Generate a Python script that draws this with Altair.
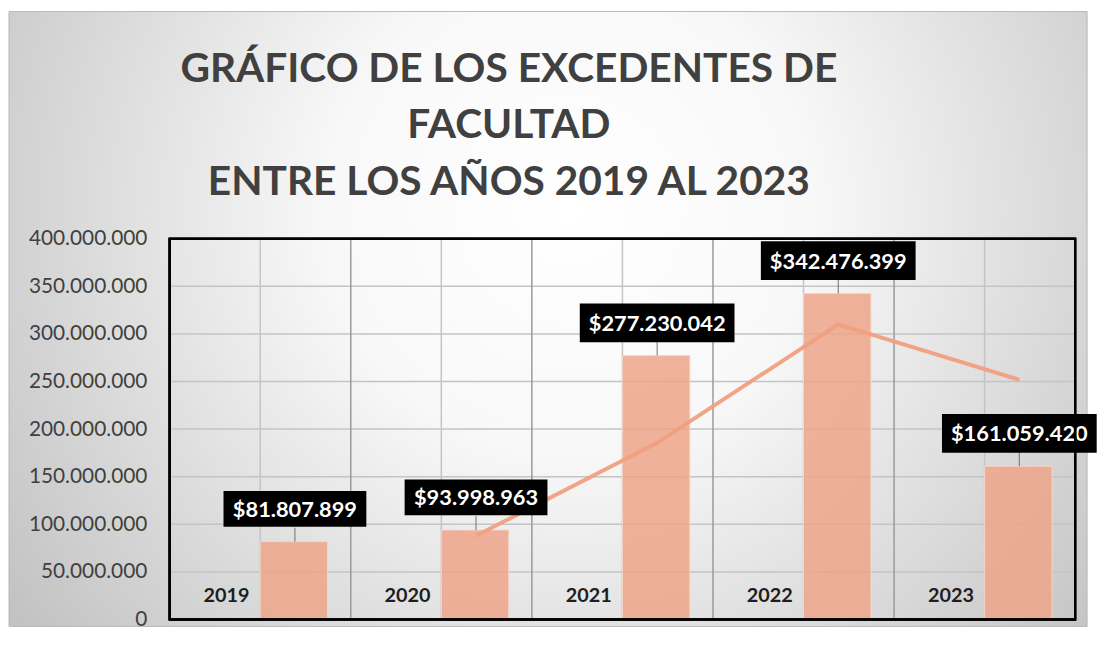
import altair as alt
import pandas as pd

years = ["2019", "2020", "2021", "2022", "2023"]
values = [81807899, 93998963, 277230042, 342476399, 161059420]
moving_avg = [None, 87900000, 185600000, 309900000, 251800000]
y_ticks = [0, 50000000, 100000000, 150000000, 200000000, 250000000, 300000000, 350000000, 400000000]
title_lines = ["GRÁFICO DE LOS EXCEDENTES DE", "FACULTAD", "ENTRE LOS AÑOS 2019 AL 2023"]

labels = ["$" + f"{v:,}".replace(",", ".") for v in values]
df = pd.DataFrame({"year": years, "value": values, "ma": moving_avg, "label": labels})
ticks_df = pd.DataFrame({"tick": y_ticks})
one_row = pd.DataFrame({"k": [0]})

W, H = 913, 384
BAND = W / 5
SHIFT = 35
FONT = "Lato"

yscale = alt.Scale(domain=[0, 400000000], nice=False)
yaxis = alt.Axis(values=y_ticks, grid=False, domain=False, ticks=False,
                 labelPadding=23, labelFont=FONT, labelFontSize=21,
                 labelColor="#404040", title=None, zindex=1,
                 labelExpr="replace(format(datum.value, ',d'), regexp(',', 'g'), '.')")

xs = alt.X("year:N", sort=years,
           scale=alt.Scale(paddingInner=0, paddingOuter=0),
           axis=None)
ys = alt.Y("value:Q", scale=yscale, axis=yaxis)

base = alt.Chart(df)

bg = alt.Chart(one_row).mark_rect(
    fill={"gradient": "radial", "x1": 0.52, "y1": 0.4, "r1": 0.0,
          "x2": 0.52, "y2": 0.4, "r2": 0.64,
          "stops": [{"offset": 0, "color": "#ffffff"},
                    {"offset": 0.35, "color": "#f8f8f8"},
                    {"offset": 1, "color": "#c2c2c2"}]},
    stroke="#b8b8b8", strokeWidth=1
).encode(x=alt.value(-162), x2=alt.value(W + 12), y=alt.value(-229), y2=alt.value(H + 7))

title = alt.Chart(one_row).mark_text(
    text=title_lines, font=FONT, fontSize=41, fontWeight="bold", color="#404040",
    align="center", baseline="alphabetic", lineHeight=57
).encode(x=alt.value(342), y=alt.value(-158))

hgrid = alt.Chart(ticks_df).mark_rule(color="#c4c4c4", strokeWidth=1.5).encode(
    y=alt.Y("tick:Q", scale=yscale, axis=yaxis)
)

vgrid_center = base.mark_rule(color="#c4c4c4", strokeWidth=1.5).encode(x=xs)
vgrid_edge = base.mark_rule(color="#9a9a9a", strokeWidth=1.5, xOffset=-BAND / 2).encode(x=xs)

bars = base.transform_calculate(s="'b'").mark_bar(
    fill="#EEA58A", fillOpacity=0.85, stroke="#F7D6C9", strokeWidth=1
).encode(
    x=xs, y=ys,
    xOffset=alt.XOffset("s:N", scale=alt.Scale(domain=["a", "b"], paddingInner=0, paddingOuter=0.343))
)

line = base.transform_filter("isValid(datum.ma)").mark_line(
    color="#F0A080", strokeWidth=4, opacity=0.95, xOffset=SHIFT
).encode(x=xs, y=alt.Y("ma:Q", scale=yscale, axis=yaxis))

leaders = base.mark_rule(color="#707070", strokeWidth=1, xOffset=SHIFT, y2Offset=-14).encode(
    x=xs, y=ys, y2=alt.Y2("value")
)

box_path = "M-1,-0.25L1,-0.25L1,0.25L-1,0.25Z"
boxes = base.transform_calculate(
    bs="pow(12*length(datum.label)+12, 2)"
).mark_point(
    shape=box_path, filled=True, fill="black", opacity=1, strokeWidth=0,
    xOffset=SHIFT, yOffset=-33
).encode(x=xs, y=ys, size=alt.Size("bs:Q", scale=None, legend=None))

label_text = base.mark_text(
    font=FONT, fontSize=22, fontWeight="bold", color="white",
    align="center", baseline="middle", xOffset=SHIFT, yOffset=-32
).encode(x=xs, y=ys, text="label:N")

year_text = base.mark_text(
    font=FONT, fontSize=20, fontWeight="bold", color="#1e1e1e",
    align="center", baseline="alphabetic", xOffset=-SHIFT + 1, dy=-18
).encode(x=xs, y=alt.value("height"), text="year:N")

border = base.mark_rect(filled=False, stroke="black", strokeWidth=2).encode(
    x=alt.value(0), x2=alt.value("width"), y=alt.value(0), y2=alt.value("height")
)

chart = alt.layer(
    bg, title, hgrid, vgrid_center, vgrid_edge, bars, line, leaders, boxes, label_text, year_text, border
).properties(
    width=W, height=H,
    padding=0,
    background="white",
).configure_view(strokeWidth=0)

chart.save("out.html", embed_options={"renderer": "svg", "actions": False})
